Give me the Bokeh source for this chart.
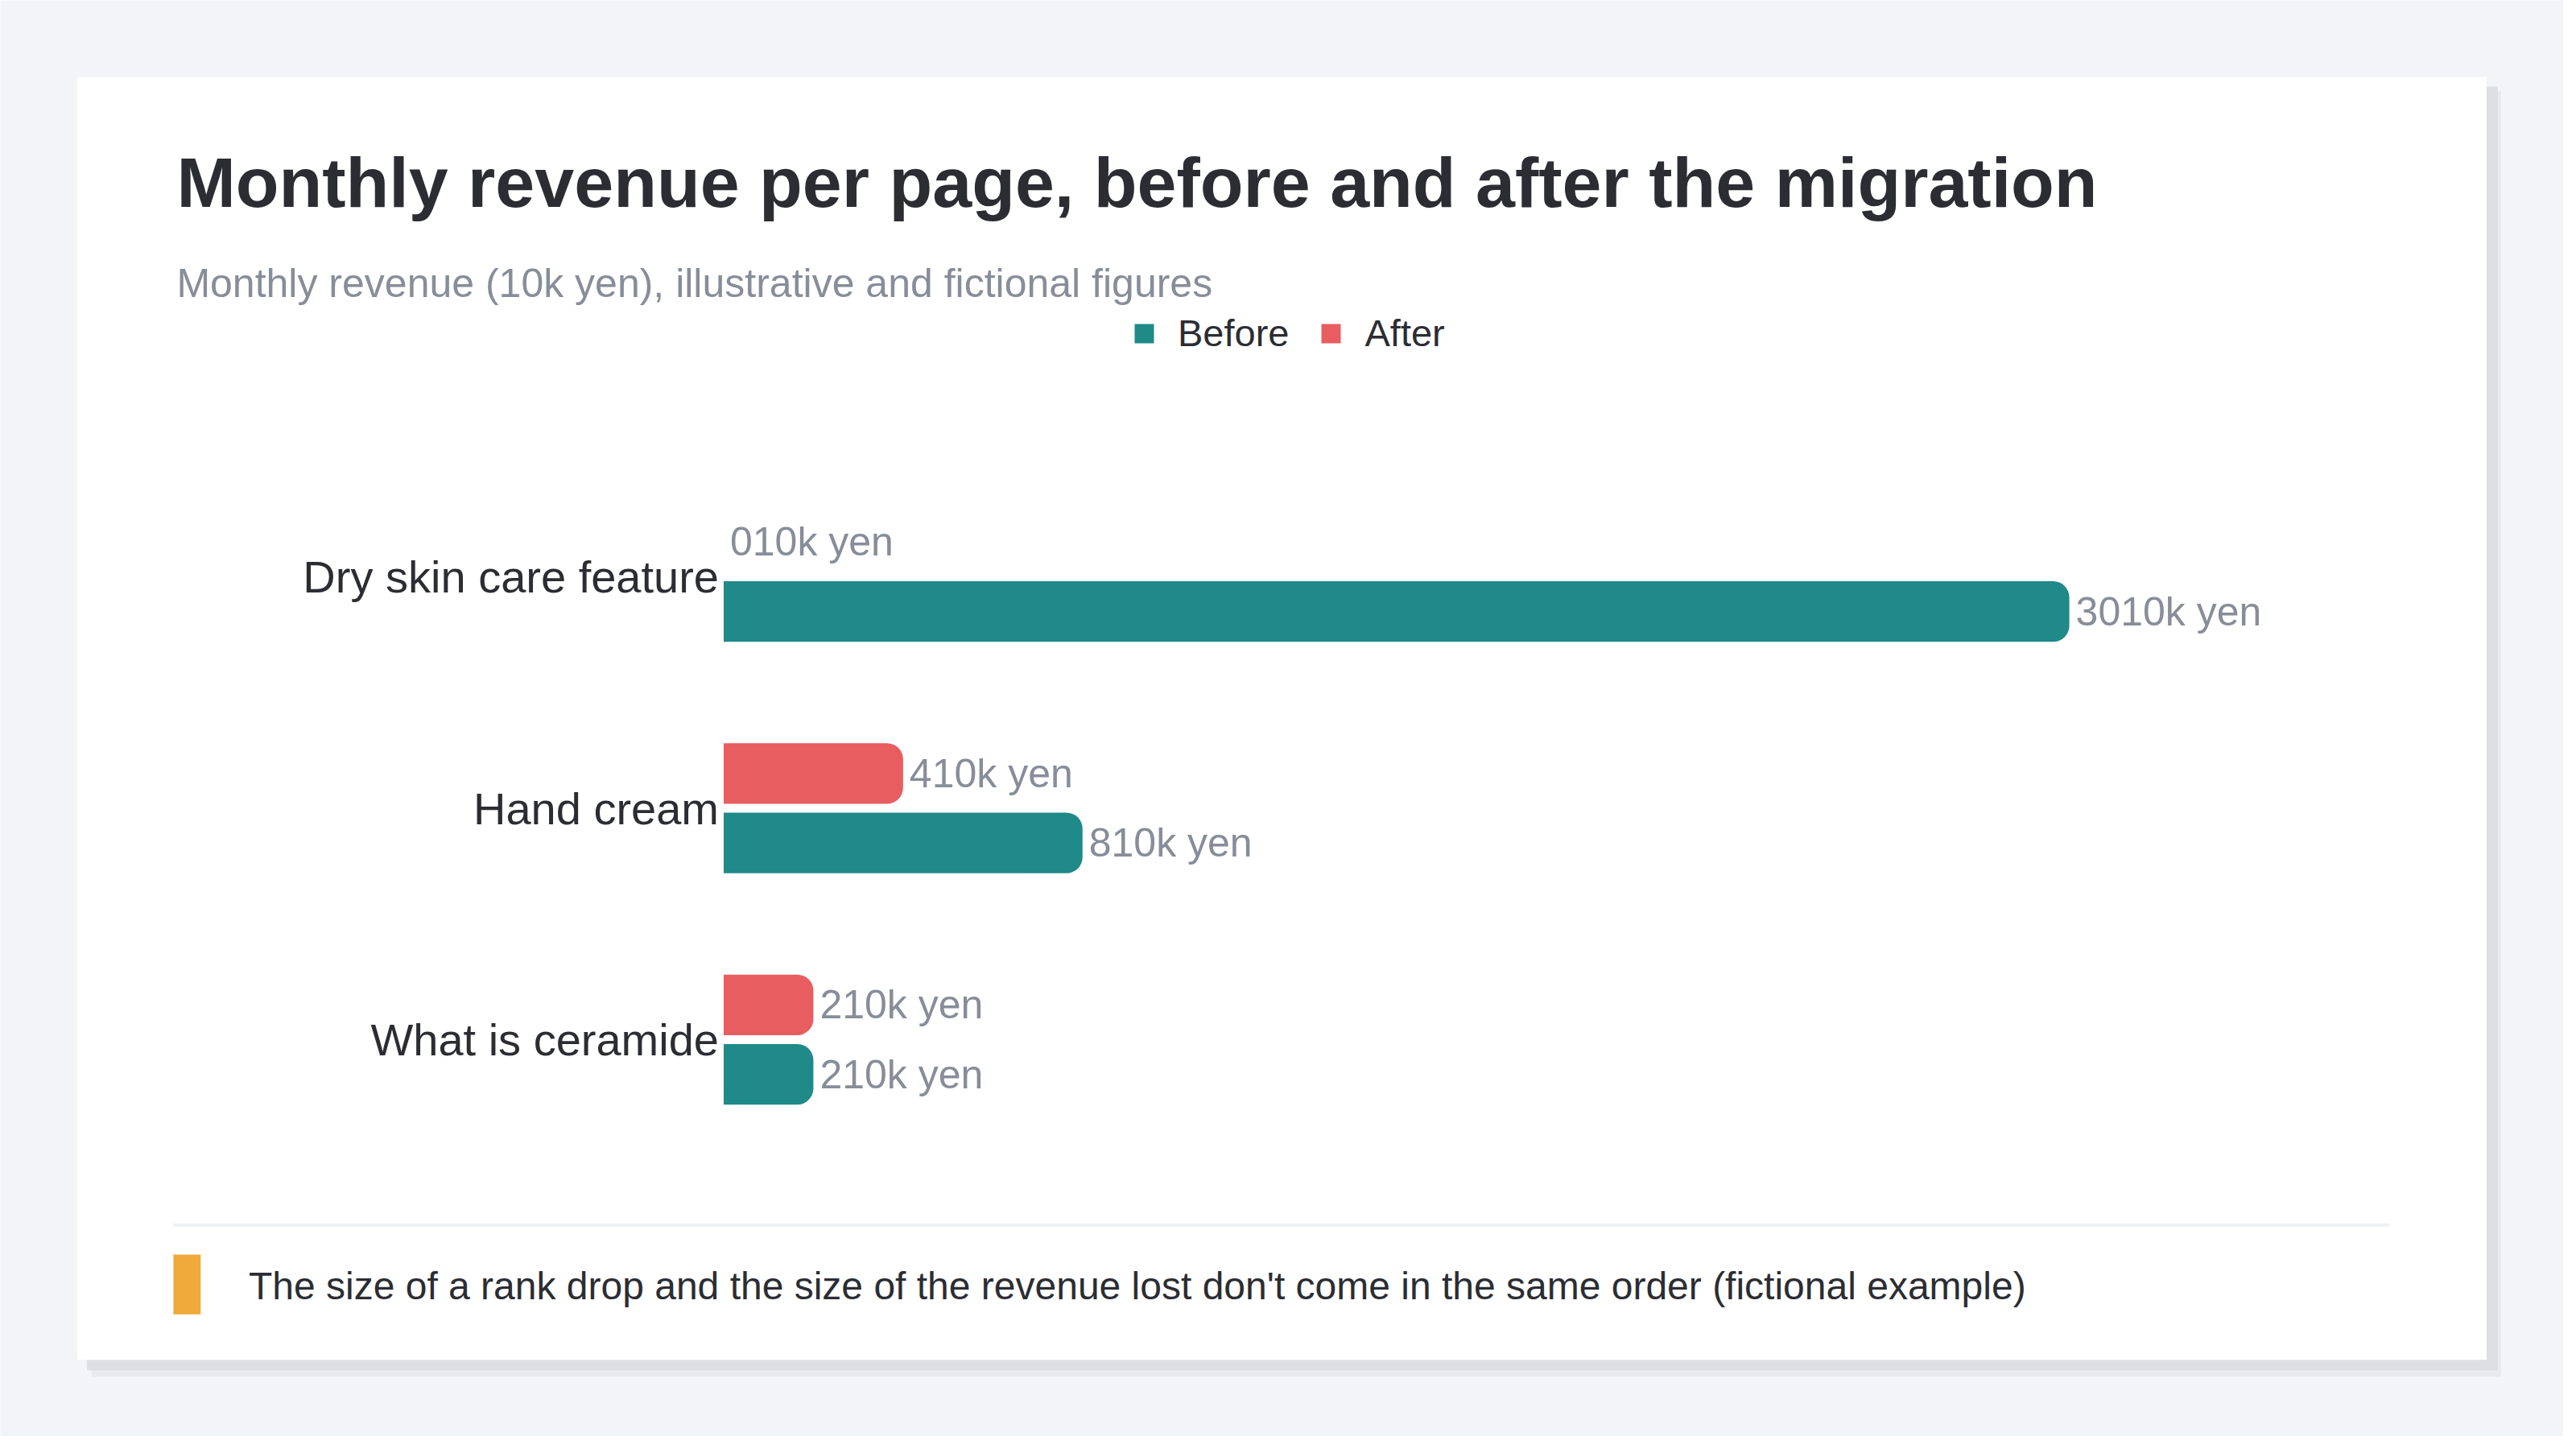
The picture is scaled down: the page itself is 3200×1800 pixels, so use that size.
from bokeh.plotting import figure
from bokeh.models import ColumnDataSource, Range1d, Label, Legend, LegendItem
from bokeh.transform import dodge
from bokeh.core.properties import value
from bokeh.embed import file_html
from bokeh.resources import INLINE

# data (monthly revenue, unit 10k yen)
categories = ["Dry skin care feature", "Hand cream", "What is ceramide"]
before = [30, 8, 2]
after = [0, 4, 2]
unit = "10k yen"
series = ["Before", "After"]

title = "Monthly revenue per page, before and after the migration"
subtitle = "Monthly revenue (10k yen), illustrative and fictional figures"
note = "The size of a rank drop and the size of the revenue lost don't come in the same order (fictional example)"

FONT = "Liberation Sans"
BG = "#f3f4f8"
TEAL = "#1f8a87"
RED = "#e85d5f"
DARK = "#2b2d33"
GREY = "#878d99"

# page is laid out on a 3200x1800 grid, drawn on a slightly smaller canvas
RW, RH = 3200, 1800
W, H = 3184, 1784

p = figure(width=W, height=H, output_backend="svg", toolbar_location=None,
           x_axis_type=None, y_axis_type=None,
           x_range=Range1d(0, RW), y_range=Range1d(RH, 0),
           min_border_left=0, min_border_right=0, min_border_top=0, min_border_bottom=0)
p.outline_line_color = None
p.background_fill_color = BG
p.border_fill_color = BG

# value axis: 0 at x=903, 56 px per unit; category rows 290 px apart from y=722.5
p.extra_x_ranges = {"val": Range1d(-903 / 56, (RW - 903) / 56)}
p.extra_y_ranges = {"cat": Range1d((RH - 722.5) / 290, -722.5 / 290)}

# card with a soft shadow
p.quad(left=[114], right=[3122], top=[114], bottom=[1725], fill_color="#e9eaef", line_color=None)
p.quad(left=[108], right=[3118], top=[108], bottom=[1717], fill_color="#dddfe4", line_color=None)
p.quad(left=[96], right=[3104], top=[96], bottom=[1704], fill_color="white", line_color=None)

# divider and note marker
p.quad(left=[216], right=[2983], top=[1533], bottom=[1537], fill_color="#edf0f4", line_color=None)
p.quad(left=[216], right=[250], top=[1572], bottom=[1647], fill_color="#f0a93b", line_color=None)

src = ColumnDataSource(dict(
    y=list(range(len(categories))),
    cat=categories,
    before=before,
    after=after,
    before_lbl=[f"{v}{unit}" for v in before],
    after_lbl=[f"{v}{unit}" for v in after],
))

bar_h = 0.262
rb = p.hbar(y=dodge("y", 0.15), left=0, right="before", height=bar_h, source=src,
            x_range_name="val", y_range_name="cat",
            fill_color=TEAL, line_color=None, border_radius=(0, 20, 20, 0))
ra = p.hbar(y=dodge("y", -0.15), left=0, right="after", height=bar_h, source=src,
            x_range_name="val", y_range_name="cat",
            fill_color=RED, line_color=None, border_radius=(0, 20, 20, 0))

# value labels
p.text(x="before", y=dodge("y", 0.15), text="before_lbl", source=src,
       x_range_name="val", y_range_name="cat", x_offset=8,
       text_align="left", text_baseline="middle", text_font=value(FONT),
       text_font_size="50px", text_color=GREY)
p.text(x="after", y=dodge("y", -0.15), text="after_lbl", source=src,
       x_range_name="val", y_range_name="cat", x_offset=8,
       text_align="left", text_baseline="middle", text_font=value(FONT),
       text_font_size="50px", text_color=GREY)

# category labels
p.text(x=0, y="y", text="cat", source=src, x_range_name="val", y_range_name="cat",
       x_offset=-6, text_align="right", text_baseline="middle", text_font=value(FONT),
       text_font_size="56px", text_color=DARK)

p.add_layout(Label(x=220, y=228, text=title, text_font=FONT, text_font_size="88px",
                   text_font_style="bold", text_color=DARK, text_baseline="middle"))
p.add_layout(Label(x=220, y=355, text=subtitle, text_font=FONT, text_font_size="50px",
                   text_color=GREY, text_baseline="middle"))
p.add_layout(Label(x=310, y=1611, text=note, text_font=FONT, text_font_size="48px",
                   text_color=DARK, text_baseline="middle"))

legend = Legend(items=[LegendItem(label=series[0], renderers=[rb]),
                       LegendItem(label=series[1], renderers=[ra])],
                orientation="horizontal", location=(1406, 1343),
                glyph_width=30, glyph_height=30, label_height=30,
                label_standoff=27, spacing=37, padding=0, margin=0,
                label_text_font=FONT, label_text_font_size="47px",
                label_text_color=DARK, border_line_color=None,
                background_fill_alpha=0)
p.add_layout(legend)

open("out.html", "w").write(file_html(p, INLINE))
